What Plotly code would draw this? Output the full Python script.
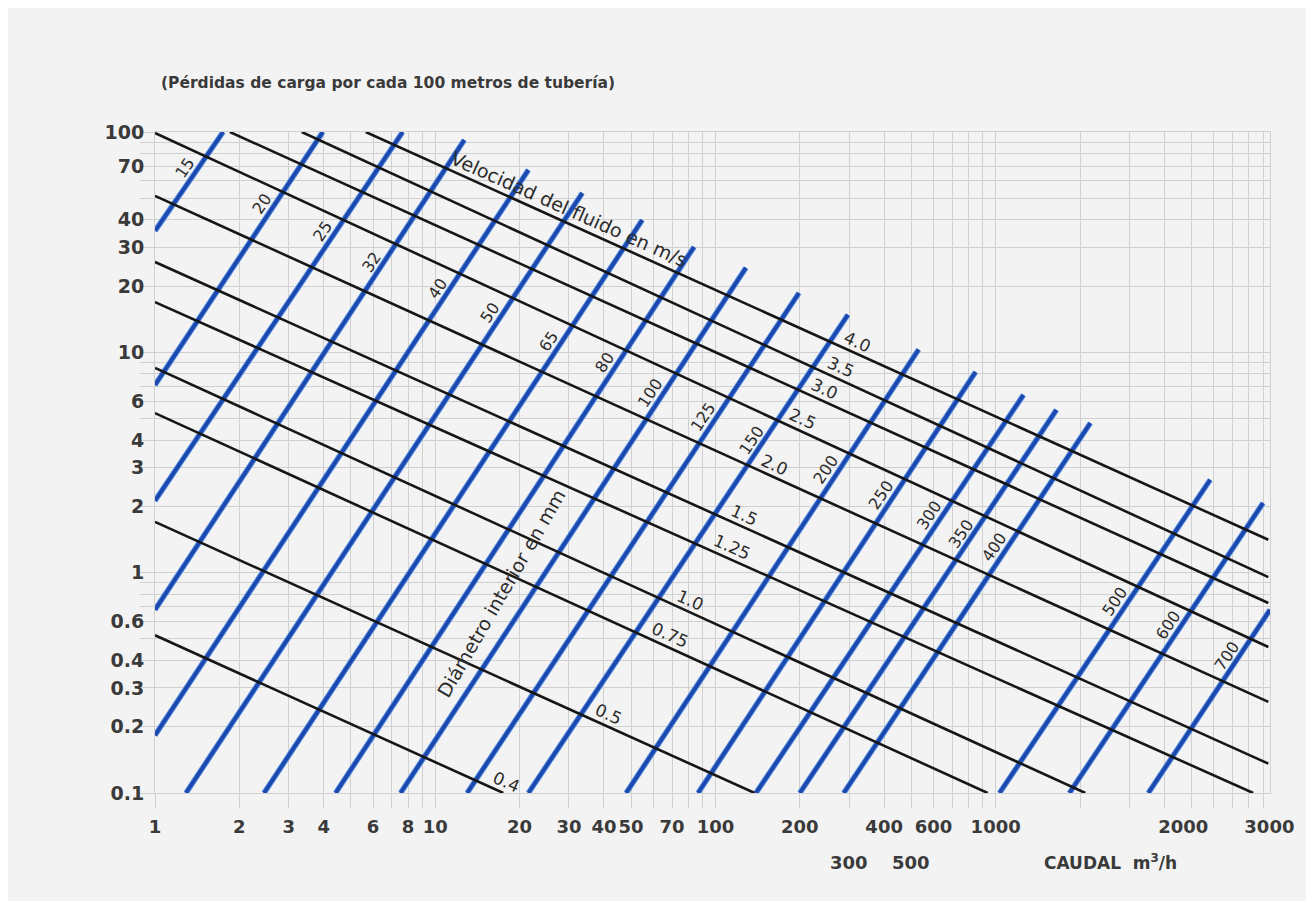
import math
import plotly.graph_objects as go

# ---------------- data ----------------
# Velocity lines (m/s): end points as (caudal Q m3/h, perdida J m/100 m)
velocities = ["0.4", "0.5", "0.75", "1.0", "1.25", "1.5", "2.0", "2.5", "3.0", "3.5", "4.0"]
vel_q_start = [1, 1, 1, 1, 1, 1, 1, 1, 1.85, 3.34, 5.65]
vel_j_start = [0.52, 1.70, 5.3, 8.5, 16.9, 25.7, 51.3, 99, 100, 100, 100]
vel_q_end = [17.5, 138, 936, 2090, 8300, 9400, 9400, 9400, 9400, 9400, 9400]
vel_j_end = [0.1, 0.1, 0.1, 0.1, 0.1, 0.136, 0.259, 0.46, 0.728, 0.955, 1.41]

# Inner-diameter lines (mm)
diameters = ["15", "20", "25", "32", "40", "50", "65", "80", "100", "125", "150",
             "200", "250", "300", "350", "400", "500", "600", "700"]
dia_q_start = [1, 1, 1, 1, 1, 1.29, 2.45, 4.41, 7.52, 13.0, 21.5,
               48.0, 86.7, 139.5, 200, 287, 1032, 1833, 3506]
dia_j_start = [35.6, 7.11, 2.12, 0.678, 0.183, 0.1, 0.1, 0.1, 0.1, 0.1, 0.1,
               0.1, 0.1, 0.1, 0.1, 0.1, 0.1, 0.1, 0.1]
dia_q_end = [1.75, 3.97, 7.65, 12.7, 21.5, 33.5, 54.8, 83.9, 128.5, 198.6, 297,
             531, 848, 1257, 1648, 2178, 5830, 9000, 9530]
dia_j_end = [100, 100, 100, 92, 67.3, 52.9, 39.9, 30.1, 24.2, 18.6, 14.8,
             10.3, 8.15, 6.41, 5.48, 4.78, 2.64, 2.07, 0.678]

# Axis tick labels as printed on the picture
x_tick_vals = [1, 2, 3, 4, 6, 8, 10, 20, 30, 40, 50, 70, 100, 200, 400, 600, 1000, 4670, 9480]
x_tick_text = ["1", "2", "3", "4", "6", "8", "10", "20", "30", "40", "50", "70", "100",
               "200", "400", "600", "1000", "2000", "3000"]
x_low_vals = [300, 500]          # second row of labels
x_low_text = ["300", "500"]
y_tick_vals = [0.1, 0.2, 0.3, 0.4, 0.6, 1, 2, 3, 4, 6, 10, 20, 30, 40, 70, 100]
y_tick_text = ["0.1", "0.2", "0.3", "0.4", "0.6", "1", "2", "3", "4", "6", "10",
               "20", "30", "40", "70", "100"]

# ---------------- label placement (layout, not data) ----------------
vel_label_logq = [1.240, 1.603, 1.824, 1.895, 2.045, 2.088, 2.198, 2.298, 2.376, 2.433, 2.494]
dia_label_logj = [1.837, 1.674, 1.547, 1.410, 1.292, 1.179, 1.047, 0.952, 0.816, 0.707,
                  0.602, 0.466, 0.353, 0.262, 0.180, 0.117, -0.133, -0.237, -0.374]

X_RANGE = [0, 3.979]
Y_RANGE = [-1, 2]

grid_x = [k * 10 ** n for n in range(4) for k in range(1, 10)]
grid_y = [k * 10.0 ** n for n in range(-1, 2) for k in range(1, 10)] + [100]

BLACK = "#161616"
BLUE = "#1c47ad"
BLUE_HALO = "#4f8ae0"
TXT = "#2b2b2b"
GRID = "#d0d0d0"
TICK_FONT = dict(family="DejaVu Sans", size=19, color="#3a3a3a", weight="bold")
XTICK_FONT = dict(family="DejaVu Sans", size=18, color="#3a3a3a", weight="bold")

fig = go.Figure()

# diameter lines (blue), halo + core
for i, d in enumerate(diameters):
    xs = [dia_q_start[i], dia_q_end[i]]
    ys = [dia_j_start[i], dia_j_end[i]]
    fig.add_trace(go.Scatter(x=xs, y=ys, mode="lines", line=dict(color=BLUE_HALO, width=5.5),
                             hoverinfo="skip", showlegend=False))
    fig.add_trace(go.Scatter(x=xs, y=ys, mode="lines", line=dict(color=BLUE, width=3.6),
                             name=d + " mm", showlegend=False))

# velocity lines (black)
for i, v in enumerate(velocities):
    fig.add_trace(go.Scatter(x=[vel_q_start[i], vel_q_end[i]], y=[vel_j_start[i], vel_j_end[i]],
                             mode="lines", line=dict(color=BLACK, width=2.6),
                             name=v + " m/s", showlegend=False))


def lerp_log(x0, y0, x1, y1, lx=None, ly=None):
    a0, b0, a1, b1 = math.log10(x0), math.log10(y0), math.log10(x1), math.log10(y1)
    if lx is not None:
        t = (lx - a0) / (a1 - a0)
        return lx, b0 + t * (b1 - b0)
    t = (ly - b0) / (b1 - b0)
    return a0 + t * (a1 - a0), ly


annotations = []
for i, v in enumerate(velocities):
    ax, ay = lerp_log(vel_q_start[i], vel_j_start[i], vel_q_end[i], vel_j_end[i], lx=vel_label_logq[i])
    annotations.append(dict(x=ax, y=ay, xref="x", yref="y", text=v, showarrow=False,
                            textangle=24, yshift=11, xshift=4,
                            font=dict(family="DejaVu Sans", size=17, color=TXT)))
for i, d in enumerate(diameters):
    ax, ay = lerp_log(dia_q_start[i], dia_j_start[i], dia_q_end[i], dia_j_end[i], ly=dia_label_logj[i])
    annotations.append(dict(x=ax, y=ay, xref="x", yref="y", text=d, showarrow=False,
                            textangle=-56, xshift=-13,
                            font=dict(family="DejaVu Sans", size=16, color=TXT)))

# "Velocidad del fluido en m/s" along the 4.0 m/s line
ax, ay = lerp_log(vel_q_start[-1], vel_j_start[-1], vel_q_end[-1], vel_j_end[-1], lx=1.478)
annotations.append(dict(x=ax, y=ay, xref="x", yref="y", text="Velocidad del fluido en m/s",
                        showarrow=False, textangle=24, yshift=15,
                        font=dict(family="DejaVu Sans", size=19, color=TXT)))
annotations.append(dict(x=1.236, y=-0.092, xref="x", yref="y", text="Diámetro interior en mm",
                        showarrow=False, textangle=-60,
                        font=dict(family="DejaVu Sans", size=19, color=TXT)))

# second row of x labels
for v, t in zip(x_low_vals, x_low_text):
    annotations.append(dict(x=math.log10(v), y=-0.105, xref="x", yref="paper", text=t,
                            showarrow=False, xanchor="center", yanchor="middle", font=XTICK_FONT))

annotations.append(dict(x=0.857, y=-0.105, xref="paper", yref="paper", xanchor="center",
                        text="CAUDAL  m<sup>3</sup>/h", showarrow=False, yanchor="middle",
                        font=dict(family="DejaVu Sans", size=17, color="#3a3a3a", weight="bold")))
annotations.append(dict(x=0.004, y=1.074, xref="paper", yref="paper", xanchor="left",
                        yanchor="middle",
                        text="(Pérdidas de carga por cada 100 metros de tubería)", showarrow=False,
                        font=dict(family="DejaVu Sans", size=15.5, color="#3a3a3a", weight="bold")))

fig.update_layout(
    width=1298, height=893,
    margin=dict(l=147, r=34, t=124, b=108),
    paper_bgcolor="#f3f3f3", plot_bgcolor="#f3f3f3",
    annotations=annotations,
    showlegend=False,
)
fig.update_xaxes(
    type="log", range=X_RANGE,
    tickmode="array", tickvals=x_tick_vals, ticktext=x_tick_text, tickangle=0,
    showgrid=False, ticks="", ticklabelstandoff=17, tickfont=XTICK_FONT,
    minor=dict(tickmode="array", tickvals=grid_x, showgrid=True, gridcolor=GRID,
               gridwidth=1, ticks="outside", ticklen=14, tickcolor=GRID),
    showline=True, linecolor=GRID, mirror=True, zeroline=False,
)
fig.update_yaxes(
    type="log", range=Y_RANGE,
    tickmode="array", tickvals=y_tick_vals, ticktext=y_tick_text,
    showgrid=False, ticks="", ticklabelstandoff=6, tickfont=TICK_FONT,
    minor=dict(tickmode="array", tickvals=grid_y, showgrid=True, gridcolor=GRID,
               gridwidth=1, ticks="outside", ticklen=14, tickcolor=GRID),
    showline=True, linecolor=GRID, mirror=True, zeroline=False,
)

fig.write_html("out.html")
